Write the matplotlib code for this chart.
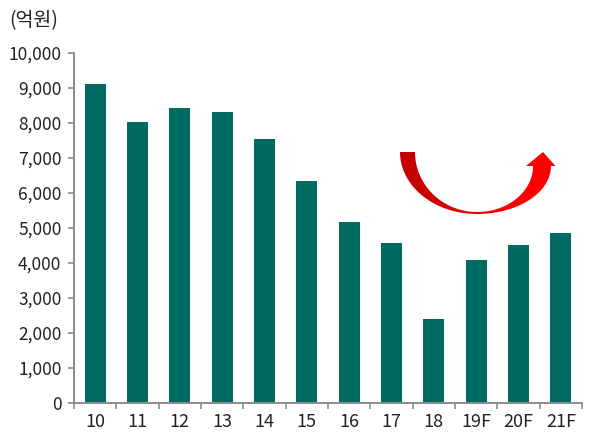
import numpy as np
import matplotlib
matplotlib.use('Agg')
import matplotlib.pyplot as plt
from matplotlib.patches import Polygon
from matplotlib.colors import LinearSegmentedColormap

plt.rcParams['font.family'] = ['Noto Sans CJK KR', 'DejaVu Sans']

# data
years = ['10', '11', '12', '13', '14', '15', '16', '17', '18', '19F', '20F', '21F']
values = [9110, 8030, 8440, 8320, 7550, 6350, 5180, 4570, 2400, 4100, 4510, 4850]
yticks = [0, 1000, 2000, 3000, 4000, 5000, 6000, 7000, 8000, 9000, 10000]
unit_label = '(억원)'

bar_color = '#006B60'
axis_color = '#8C8C8C'

W, H = 606, 433
fig = plt.figure(figsize=(W / 100, H / 100), dpi=100)
ax = fig.add_axes([74 / W, 30 / H, 508 / W, 350 / H])

x = np.arange(len(years))
ax.bar(x, values, width=0.5, color=bar_color, zorder=2)

ax.set_xlim(-0.5, len(years) - 0.5)
ax.set_ylim(0, 10000)
ax.set_yticks(yticks)
ax.set_yticklabels(['{:,}'.format(v) for v in yticks], fontsize=12.5, color='#222222')
ax.set_xticks(x)
ax.set_xticklabels(years, fontsize=13, color='#222222')
ax.set_xticks(np.arange(-0.5, len(years)), minor=True)
ax.tick_params(axis='x', which='major', length=0, pad=7)
ax.tick_params(axis='x', which='minor', length=4, width=1.2, color=axis_color)
ax.tick_params(axis='y', length=4.5, width=1.2, color=axis_color, pad=4.5)

for s in ['top', 'right']:
    ax.spines[s].set_visible(False)
for s in ['left', 'bottom']:
    ax.spines[s].set_color(axis_color)
    ax.spines[s].set_linewidth(1.4)

fig.text(9 / W, 1 - 21 / H, unit_label, fontsize=14, va='center', ha='left', color='#222222')

# curved red arrow (decoration), drawn in pixel space
ov = fig.add_axes([0, 0, 1, 1], zorder=5)
ov.set_xlim(0, W)
ov.set_ylim(H, 0)
ov.axis('off')
ov.patch.set_alpha(0)

t = np.linspace(0, np.pi / 2, 60)
cx = 477
# left half
outer_l = np.column_stack([cx - 77 * np.cos(t), 152 + 62 * np.sin(t)])
inner_l = np.column_stack([cx - 62 * np.cos(t), 152 + 60 * np.sin(t)])
# right half
outer_r = np.column_stack([cx + 74 * np.sin(t), 166 + 48 * np.cos(t)])
inner_r = np.column_stack([cx + 56 * np.sin(t), 166 + 46 * np.cos(t)])
head = np.array([[555.5, 166], [543, 152], [526, 166]])

pts = np.vstack([outer_l, outer_r, head, inner_r[::-1], inner_l[::-1]])
poly = Polygon(pts, closed=True, facecolor='none', edgecolor='none')
ov.add_patch(poly)

cmap = LinearSegmentedColormap.from_list('reds', ['#C00000', '#D80000', '#FF0000', '#FF0000'])
grad = np.linspace(0, 1, 256).reshape(1, -1)
im = ov.imshow(grad, cmap=cmap, extent=(398, 558, 218, 148), aspect='auto', interpolation='bilinear')
im.set_clip_path(poly)

fig.savefig('out.png', dpi=100)
